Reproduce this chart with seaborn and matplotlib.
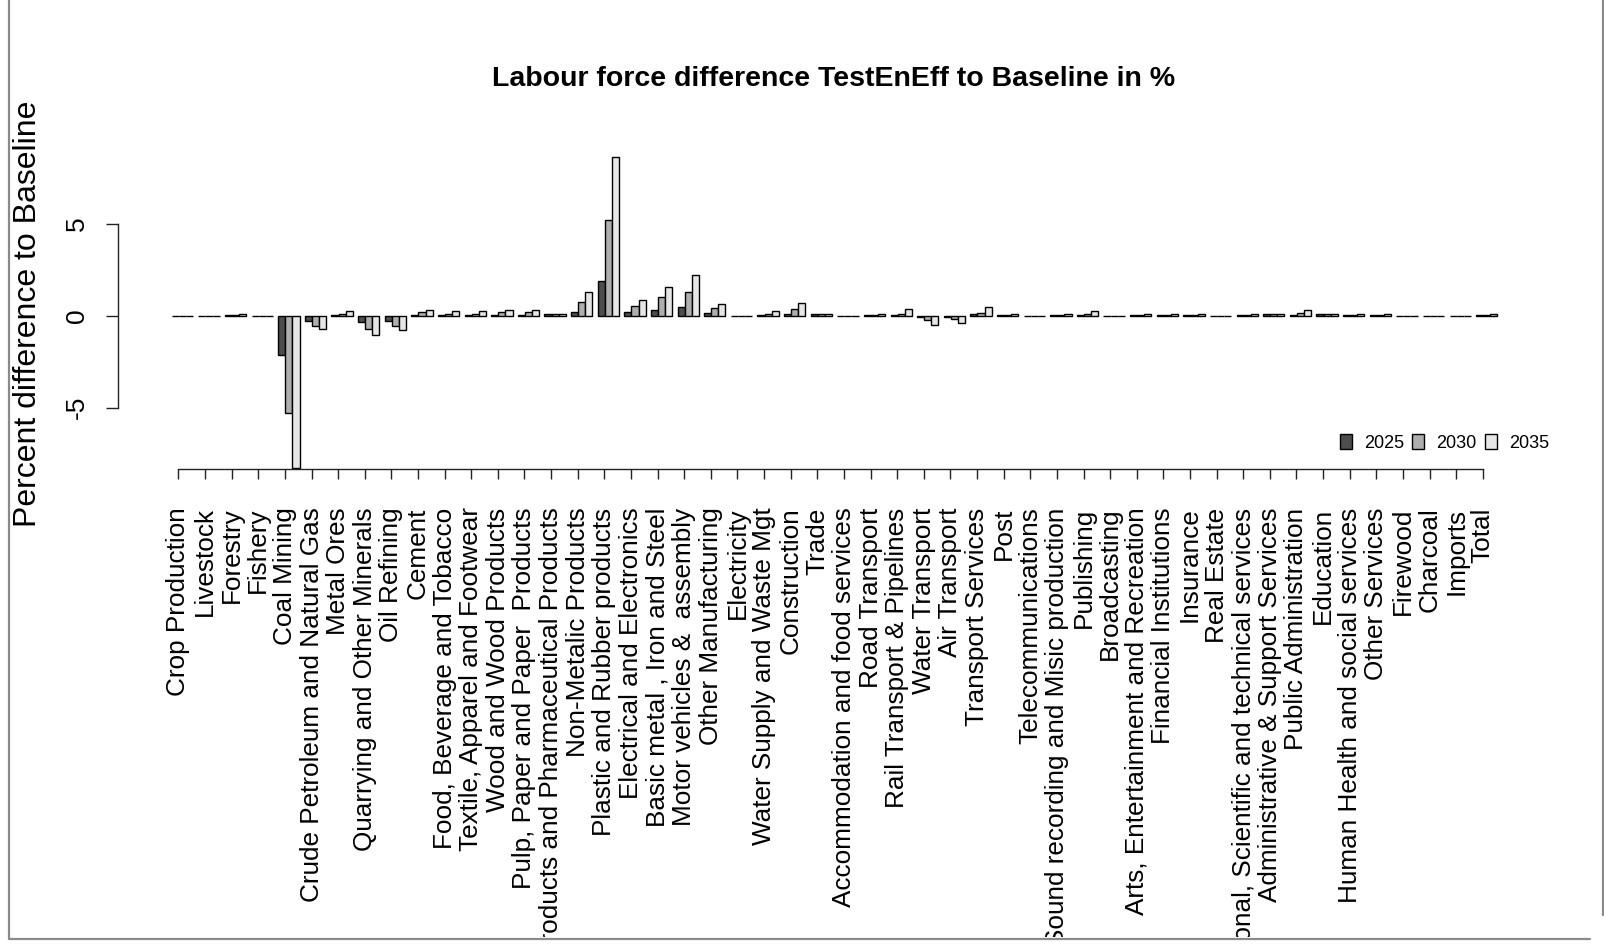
import numpy as np
import pandas as pd
import matplotlib
matplotlib.use("Agg")
import matplotlib.pyplot as plt
from matplotlib.lines import Line2D
from matplotlib.transforms import Bbox, TransformedBbox
import seaborn as sns

# sector names as on the x axis
sectors = [
    "Crop Production", "Livestock", "Forestry", "Fishery", "Coal Mining",
    "Crude Petroleum and Natural Gas", "Metal Ores", "Quarrying and Other Minerals",
    "Oil Refining", "Cement", "Food, Beverage and Tobacco",
    "Textile, Apparel and Footwear", "Wood and Wood Products",
    "Pulp, Paper and Paper  Products", "Chemical Products and Pharmaceutical Products",
    "Non-Metalic Products", "Plastic and Rubber products", "Electrical and Electronics",
    "Basic metal , Iron and Steel", "Motor vehicles &  assembly", "Other Manufacturing",
    "Electricity", "Water Supply and Waste Mgt", "Construction", "Trade",
    "Accommodation and food services", "Road Transport", "Rail Transport & Pipelines",
    "Water Transport", "Air Transport", "Transport Services", "Post",
    "Telecommunications", "Sound recording and Misic production", "Publishing",
    "Broadcasting", "Arts, Entertainment and Recreation", "Financial Institutions",
    "Insurance", "Real Estate", "Professional, Scientific and technical services",
    "Administrative & Support Services", "Public Administration", "Education",
    "Human Health and social services", "Other Services", "Firewood", "Charcoal",
    "Imports", "Total",
]
years = ["2025", "2030", "2035"]

# percent difference to baseline
val_2025 = [0, 0, 0.02, 0, -2.14, -0.27, 0.03, -0.36, -0.27, 0.05,
            0.03, 0.03, 0.05, 0.05, 0.08, 0.22, 1.88, 0.22, 0.33, 0.45,
            0.13, 0, 0.04, 0.12, 0.08, 0, 0.02, 0.05, -0.08, -0.08,
            0.07, 0.02, 0, 0.02, 0.04, 0, 0.02, 0.02, 0.02, 0,
            0.02, 0.08, 0.05, 0.08, 0.02, 0.02, 0, 0, 0, 0.02]
val_2030 = [0, 0, 0.06, 0, -5.3, -0.54, 0.08, -0.72, -0.54, 0.18,
            0.08, 0.08, 0.18, 0.18, 0.1, 0.76, 5.2, 0.54, 1.0, 1.3,
            0.43, 0, 0.1, 0.39, 0.1, 0, 0.05, 0.1, -0.25, -0.2,
            0.17, 0.04, 0, 0.04, 0.12, 0, 0.04, 0.05, 0.05, 0,
            0.05, 0.1, 0.15, 0.1, 0.05, 0.05, 0, 0, 0, 0.05]
val_2035 = [0, 0, 0.08, 0, -8.3, -0.72, 0.24, -1.05, -0.8, 0.33,
            0.24, 0.24, 0.33, 0.33, 0.1, 1.3, 8.64, 0.87, 1.54, 2.2,
            0.65, 0, 0.24, 0.7, 0.1, 0, 0.1, 0.35, -0.48, -0.39,
            0.48, 0.1, 0, 0.1, 0.26, 0, 0.1, 0.1, 0.1, 0,
            0.1, 0.1, 0.3, 0.1, 0.1, 0.1, 0, 0, 0, 0.12]
bar_colors = ["#4D4D4D", "#AEAEAE", "#E6E6E6"]

df = pd.DataFrame({
    "sector": sectors * 3,
    "year": np.repeat(years, len(sectors)),
    "value": val_2025 + val_2030 + val_2035,
})

sns.set_theme(style="white")
plt.rcParams["font.family"] = ["Liberation Sans", "DejaVu Sans"]
for key in ["text.color", "axes.labelcolor", "xtick.color", "ytick.color"]:
    plt.rcParams[key] = "black"

W, H = 1604, 947
fig = plt.figure(figsize=(W / 100, H / 100), dpi=100)
ax = fig.add_axes([118 / W, 1 - 469 / H, (1560 - 118) / W, (469 - 150) / H])

sns.barplot(data=df, x="sector", y="value", hue="year", order=sectors,
            hue_order=years, palette=bar_colors, saturation=1, errorbar=None,
            width=0.8, edgecolor="black", linewidth=1.0, ax=ax)

ax.set_xlim(-2.42, 51.75)
ax.set_ylim(-8.33, 9.01)
ax.set_xlabel("")
ax.set_ylabel("")

for side in ["top", "right"]:
    ax.spines[side].set_visible(False)
for side in ["left", "bottom"]:
    ax.spines[side].set_linewidth(1.0)
    ax.spines[side].set_color("#222222")
ax.spines["left"].set_bounds(-5, 5)
tick_pos = np.arange(len(sectors)) - 0.15
ax.spines["bottom"].set_bounds(tick_pos[0], tick_pos[-1])

ax.set_xticks(tick_pos, sectors, rotation=90)
ax.set_yticks([-5, 0, 5], ["-5", "0", "5"], rotation=90, va="center")
ax.tick_params(axis="x", bottom=True, length=7.2, width=1.0, color="#222222",
               pad=20.5, labelsize=18.8)
ax.tick_params(axis="y", left=True, length=8.6, width=1.0, color="#222222",
               pad=12.5, labelsize=19)

# labels get cut at the window border, like in the screenshot
clip = TransformedBbox(Bbox([[0, 10 / H], [1, 1]]), fig.transFigure)
for lbl in ax.get_xticklabels():
    lbl.set_clip_box(clip)
    lbl.set_clip_on(True)

handles, labels = ax.get_legend_handles_labels()
ax.get_legend().remove()
fig.legend(handles, labels, loc="center left", bbox_to_anchor=(1340 / W, 1 - 443 / H),
           ncol=3, frameon=False, borderpad=0, borderaxespad=0,
           handlelength=0.67, handleheight=0.89, handletextpad=0.67,
           columnspacing=0.44, prop={"size": 13})

fig.text(834 / W, 1 - 79 / H, "Labour force difference TestEnEff to Baseline in %",
         ha="center", va="center", fontsize=20.5, fontweight="bold")
fig.text(27.6 / W, 1 - 314 / H, "Percent difference to Baseline", rotation=90,
         ha="center", va="center", fontsize=23)

# window frame around the plot
frame_kw = dict(transform=fig.transFigure, color="#8a8a8a", lw=1.6)
fig.add_artist(Line2D([8.5 / W, 8.5 / W], [1 - 939 / H, 1], **frame_kw))
fig.add_artist(Line2D([8.5 / W, 1590 / W], [1 - 939 / H, 1 - 939 / H], **frame_kw))
fig.add_artist(Line2D([1602.5 / W, 1602.5 / W], [1 - 915 / H, 1], **frame_kw))

fig.savefig("out.png", dpi=100)
